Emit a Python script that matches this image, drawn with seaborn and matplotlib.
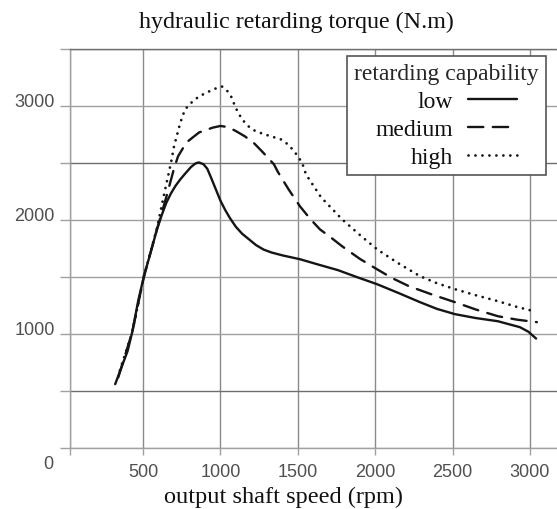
import pandas as pd
import seaborn as sns
import matplotlib.pyplot as plt
from matplotlib.transforms import ScaledTranslation

# values (rpm, N.m)
levels = ['low', 'medium', 'high']

low_rpm = [320, 400, 430, 470, 506, 550, 590, 620, 650, 681, 710, 740, 771, 810, 840, 860,
           890, 915, 940, 970, 1000, 1030, 1060, 1100, 1140, 1185, 1230, 1280, 1330, 1400,
           1460, 1514, 1630, 1760, 1880, 2012, 2150, 2290, 2400, 2516, 2650, 2793, 2880,
           2935, 2990, 3040]
low_torque = [560, 850, 1016, 1300, 1507, 1720, 1918, 2040, 2150, 2235, 2300, 2355, 2405,
              2465, 2497, 2505, 2490, 2450, 2370, 2270, 2170, 2090, 2020, 1940, 1880, 1830,
              1780, 1740, 1715, 1690, 1672, 1656, 1610, 1560, 1500, 1437, 1360, 1279, 1220,
              1174, 1140, 1112, 1080, 1060, 1020, 960]

med_rpm = [340, 430, 506, 590, 650, 700, 726, 780, 862, 950, 1000, 1049, 1100, 1159, 1220,
           1275, 1346, 1372, 1440, 1514, 1580, 1643, 1720, 1786, 1900, 2012, 2110, 2219,
           2370, 2516, 2650, 2793, 2920, 3045]
med_torque = [620, 1016, 1507, 1918, 2200, 2450, 2558, 2680, 2768, 2810, 2825, 2815, 2780,
              2733, 2670, 2593, 2488, 2420, 2270, 2120, 2010, 1918, 1840, 1770, 1660, 1568,
              1490, 1419, 1345, 1279, 1215, 1156, 1125, 1104]

high_rpm = [350, 430, 506, 590, 640, 681, 700, 740, 771, 820, 862, 930, 980, 1010, 1040, 1069,
            1100, 1140, 1190, 1230, 1300, 1391, 1440, 1482, 1527, 1553, 1650, 1786, 1900,
            2012, 2150, 2290, 2400, 2516, 2650, 2793, 2910, 3026]
high_torque = [680, 1016, 1507, 1930, 2250, 2505, 2645, 2850, 2970, 3040, 3084, 3130, 3160,
               3171, 3140, 3084, 2980, 2882, 2810, 2777, 2745, 2707, 2660, 2593, 2505, 2400,
               2200, 2006, 1870, 1743, 1620, 1507, 1445, 1393, 1340, 1288, 1240, 1200]

x_ticks = [500, 1000, 1500, 2000, 2500, 3000]
y_ticks = [0, 500, 1000, 1500, 2000, 2500, 3000, 3500]
y_labels = ['', '', '1000', '', '2000', '', '3000', '']

series = {'low': (low_rpm, low_torque),
          'medium': (med_rpm, med_torque),
          'high': (high_rpm, high_torque)}
styles = {'low': '-', 'medium': (0, (6.5, 4)), 'high': (0, (0.01, 2.5))}

sns.set_style('white')
plt.rcParams['font.family'] = ['Liberation Serif', 'DejaVu Serif']

fig = plt.figure(figsize=(5.57, 5.1), dpi=100)
ax = fig.add_axes([70 / 557, 61 / 510, 487 / 557, 399 / 510])

for name in levels:
    xs, ys = series[name]
    df = pd.DataFrame({'speed': xs, 'torque': ys})
    sns.lineplot(data=df, x='speed', y='torque', ax=ax, color='#151515',
                 linewidth=2.0 if name == 'high' else 1.7, linestyle=styles[name],
                 dash_capstyle='round', solid_joinstyle='round', estimator=None,
                 sort=False, label=name)

xmin = 28
ax.set_xlim(xmin, 3175)
ax.set_ylim(0, 3500)
ax.set_xticks([xmin] + x_ticks)
ax.set_xticklabels([''] + [str(v) for v in x_ticks])
ax.set_yticks(y_ticks)
ax.set_yticklabels(y_labels)
ax.set_xlabel('')
ax.set_ylabel('')

grid_col = '#a0a0a0'
ax.grid(True, color=grid_col, linewidth=1.0)
ax.set_axisbelow(True)
for i, gl in enumerate(ax.get_ygridlines()):
    if y_ticks[i] in (500, 2500, 3500):
        gl.set_color('#6e6e6e')
for gl in ax.get_xgridlines():
    gl.set_color('#8a8a8a')

for side in ['left', 'bottom', 'top']:
    ax.spines[side].set_color(grid_col)
    ax.spines[side].set_linewidth(1.0)
ax.spines['top'].set_color('#6e6e6e')
ax.spines['right'].set_visible(False)

ax.tick_params(axis='y', length=7, width=1.0, color=grid_col, pad=4,
               labelsize=13, labelcolor='#505050', left=True)
ax.tick_params(axis='x', length=5, width=1.0, color=grid_col, pad=6,
               labelsize=13, labelcolor='#505050', bottom=True)
for lab in ax.get_yticklabels() + ax.get_xticklabels():
    lab.set_family('Liberation Sans')
for lab in ax.get_yticklabels():
    lab.set_transform(lab.get_transform() + ScaledTranslation(0, 5 / 72, fig.dpi_scale_trans))

fig.text(48 / 557, 1 - 465 / 510, '0', ha='center', va='center', fontsize=13,
         color='#505050', family='Liberation Sans')

fig.text(296 / 557, 1 - 28 / 510, 'hydraulic retarding torque (N.m)', ha='center',
         va='baseline', fontsize=17.3, color='#111111')
fig.text(284 / 557, 1 - 503 / 510, 'output shaft speed (rpm)', ha='center',
         va='baseline', fontsize=17.5, color='#111111')

handles, labels = ax.get_legend_handles_labels()
leg = ax.legend(handles, labels, title='retarding capability', markerfirst=False,
                loc='upper left', bbox_to_anchor=(347 / 557, 1 - 57 / 510),
                bbox_transform=fig.transFigure, borderaxespad=0, fontsize=17,
                title_fontsize=17, labelspacing=0.27, borderpad=0.3, handlelength=2.1,
                handletextpad=0.6, fancybox=False, framealpha=1, edgecolor='#555555')
leg.get_frame().set_linewidth(1.2)
for t in leg.get_texts():
    t.set_color('#111111')

fig.savefig('out.png', dpi=100)
